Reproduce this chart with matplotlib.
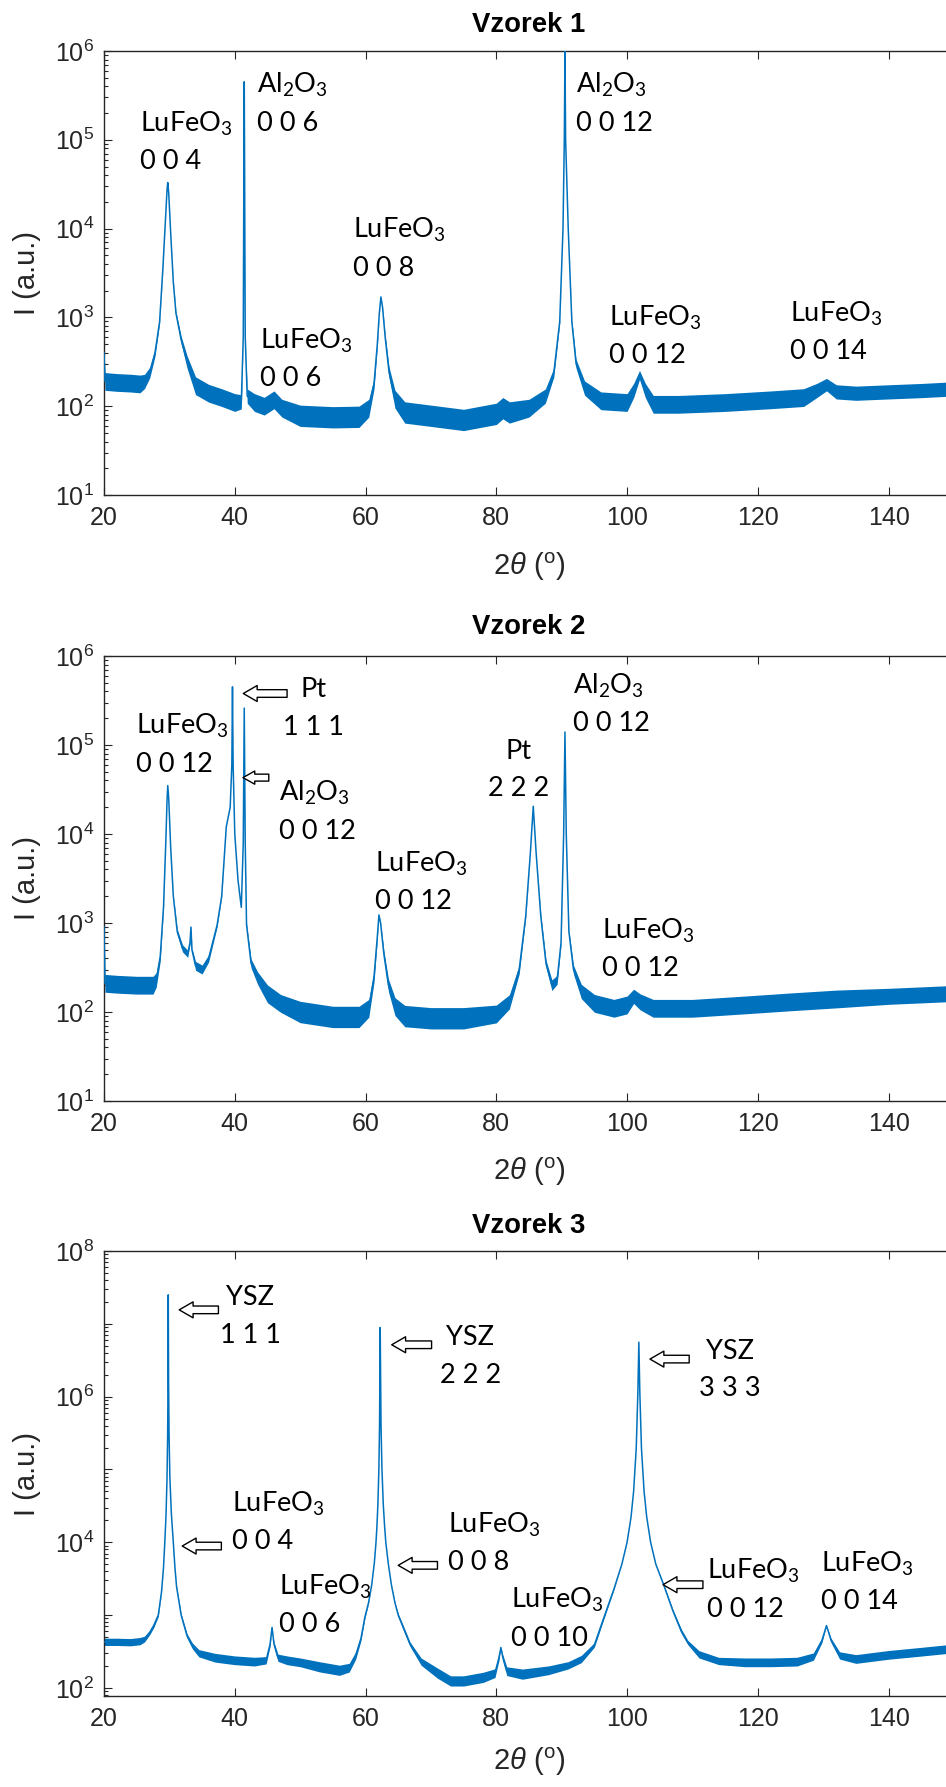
import numpy as np
import matplotlib
matplotlib.use('Agg')
import matplotlib.pyplot as plt
from matplotlib.ticker import FixedLocator, FuncFormatter, NullFormatter

plt.rcParams['font.family'] = ['Liberation Sans', 'DejaVu Sans']
plt.rcParams['mathtext.fontset'] = 'custom'
plt.rcParams['mathtext.rm'] = 'Liberation Sans'
plt.rcParams['mathtext.it'] = 'Liberation Sans:italic'
plt.rcParams['mathtext.bf'] = 'Liberation Sans:bold'
plt.rcParams['mathtext.default'] = 'regular'

# ---------------- data ----------------
titles = ['Vzorek 1', 'Vzorek 2', 'Vzorek 3']
xticks = [20, 40, 60, 80, 100, 120, 140]
ydecades = [[1, 2, 3, 4, 5, 6], [1, 2, 3, 4, 5, 6], [2, 3, 4, 5, 6, 7, 8]]

# Vzorek 1 : 2theta, intensity, noise half-width of the band (decades)
x1 = [20.0, 20.15, 22, 24, 25.5, 26.2, 27.0, 27.8, 28.5, 29.0, 29.4, 29.65, 29.75, 29.9, 30.2,
      30.6, 31.0, 31.8, 32.7, 34.0, 36.0, 38.0, 40.0, 41.0, 41.3, 41.4, 41.45, 41.5, 41.6,
      41.9, 43.0, 44.5, 46.0, 47.2, 50.0, 55.0, 59.0, 60.5, 61.3, 61.8, 62.1, 62.35, 62.6,
      63.0, 63.6, 64.5, 66.0, 70.0, 75.0, 80.0, 81.0, 82.0, 85.0, 87.5, 88.8, 89.7, 90.2,
      90.4, 90.5, 90.6, 91.0, 91.55, 92.2, 93.5, 96.0, 100.0, 101.0, 101.9, 102.8, 104.0,
      108.0, 115.0, 122.0, 127.0, 129.0, 130.5, 132.0, 135.0, 140.0, 145.0, 148.7]
y1 = [400, 190, 185, 182, 178, 190, 240, 400, 890, 3500, 12600, 28000, 33000, 25000, 8900,
      2500, 1120, 560, 316, 170, 140, 125, 110, 112, 600, 60000, 450000, 60000, 600,
      130, 110, 100, 118, 95, 78, 75, 76, 95, 180, 500, 1100, 1700, 1300,
      600, 240, 120, 85, 78, 70, 82, 95, 85, 95, 130, 240, 900, 10000,
      100000, 1000000, 100000, 10000, 900, 300, 160, 115, 110, 150, 225, 150, 105,
      105, 110, 118, 125, 150, 175, 145, 140, 145, 150, 155]
n1 = [0.0, 0.1, 0.1, 0.1, 0.1, 0.08, 0.06, 0.04, 0.02, 0.01, 0.0, 0.0, 0.0, 0.0, 0.0,
      0.01, 0.02, 0.04, 0.07, 0.1, 0.1, 0.1, 0.1, 0.08, 0.0, 0.0, 0.0, 0.0, 0.0,
      0.08, 0.1, 0.1, 0.1, 0.1, 0.12, 0.12, 0.12, 0.1, 0.06, 0.03, 0.01, 0.0, 0.01,
      0.03, 0.06, 0.1, 0.12, 0.12, 0.12, 0.12, 0.12, 0.12, 0.1, 0.08, 0.05, 0.02, 0.0,
      0.0, 0.0, 0.0, 0.0, 0.02, 0.05, 0.08, 0.1, 0.1, 0.08, 0.05, 0.08, 0.1,
      0.1, 0.1, 0.1, 0.1, 0.08, 0.07, 0.08, 0.08, 0.08, 0.08, 0.08]

# Vzorek 2
x2 = [20.0, 20.15, 22, 25, 27.5, 28.0, 28.6, 29.1, 29.45, 29.65, 29.75, 29.9, 30.2, 30.6,
      31.2, 32.0, 32.8, 33.15, 33.3, 33.45, 34.0, 35.0, 36.0, 37.3, 38.0, 38.7, 39.3, 39.55,
      39.65, 39.75, 40.0, 40.5, 41.0, 41.3, 41.45, 41.6, 41.8, 42.5, 43.5, 45.0, 47.0, 50.0,
      55.0, 59.0, 60.5, 61.3, 61.8, 62.05, 62.3, 62.8, 63.5, 64.5, 66.0, 70.0, 75.0, 80.0,
      82.0, 83.5, 84.5, 85.2, 85.65, 86.1, 86.8, 87.6, 88.5, 89.3, 89.9, 90.3, 90.5, 90.7,
      91.1, 91.8, 93.0, 95.0, 98.0, 100.0, 101.0, 102.0, 104.0, 110.0, 118.0, 125.0, 132.0,
      140.0, 148.7]
y2 = [900, 210, 205, 200, 200, 230, 420, 1500, 8000, 25000, 35000, 25000, 7000, 2000,
      800, 520, 450, 600, 900, 500, 330, 300, 400, 950, 2000, 12000, 20000, 60000,
      450000, 60000, 10000, 3000, 1500, 8000, 260000, 8000, 950, 350, 240, 160, 125, 100,
      88, 88, 110, 250, 700, 1230, 1000, 450, 200, 115, 90, 85, 85, 95,
      130, 300, 1200, 6000, 20500, 6000, 1200, 350, 200, 230, 600, 10000, 140000, 10000,
      800, 300, 170, 125, 110, 120, 150, 130, 110, 110, 120, 130, 140,
      150, 160]
n2 = [0.0, 0.1, 0.1, 0.1, 0.1, 0.08, 0.05, 0.02, 0.0, 0.0, 0.0, 0.0, 0.0, 0.01,
      0.03, 0.04, 0.04, 0.02, 0.0, 0.02, 0.05, 0.05, 0.04, 0.02, 0.01, 0.0, 0.0, 0.0,
      0.0, 0.0, 0.0, 0.0, 0.0, 0.0, 0.0, 0.0, 0.02, 0.05, 0.07, 0.1, 0.1, 0.12,
      0.12, 0.12, 0.1, 0.06, 0.03, 0.0, 0.01, 0.04, 0.07, 0.1, 0.12, 0.12, 0.12, 0.1,
      0.08, 0.05, 0.02, 0.0, 0.0, 0.0, 0.02, 0.04, 0.06, 0.05, 0.02, 0.0, 0.0, 0.0,
      0.02, 0.05, 0.08, 0.1, 0.1, 0.1, 0.08, 0.09, 0.1, 0.1, 0.1, 0.1, 0.1,
      0.09, 0.09]

# Vzorek 3
x3 = [20.0, 22.0, 24.0, 25.5, 26.2, 27.0, 27.6, 28.3, 28.8, 29.1,
      29.3, 29.48, 29.63, 29.73, 29.78, 29.83, 29.88, 29.95, 30.07, 30.3,
      30.6, 30.85, 31.1, 31.8, 32.7, 33.5, 34.5, 37.0, 40.0, 43.0,
      44.8, 45.4, 45.7, 46.0, 46.6, 48.0, 50.0, 53.0, 56.0, 57.5,
      58.5, 59.3, 59.9, 60.45, 60.95, 61.35, 61.6, 61.74, 61.89, 62.04,
      62.14, 62.24, 62.37, 62.51, 62.71, 62.92, 63.1, 63.46, 63.95, 64.5,
      65.0, 66.0, 66.8, 68.5, 71.0, 73.0, 75.0, 78.0, 79.8, 80.4,
      80.7, 81.0, 81.6, 84.0, 88.0, 91.0, 93.0, 95.0, 96.4, 98.0,
      99.2, 100.0, 100.6, 101.0, 101.4, 101.65, 101.8, 101.95, 102.2, 102.6,
      103.0, 103.6, 104.4, 105.6, 107.0, 108.3, 109.3, 111.0, 114.0, 118.0,
      122.0, 126.0, 128.5, 129.8, 130.5, 131.2, 132.5, 135.0, 140.0, 145.0,
      148.7]
y3 = [430, 430, 425, 440, 470, 580, 720, 1000, 2100, 4500,
      10000, 23000, 70000, 280000, 1100000, 25000000, 1500000, 300000, 80000, 25000,
      10000, 4500, 2450, 1000, 520, 380, 300, 260, 240, 230,
      240, 400, 680, 400, 260, 240, 225, 195, 175, 190,
      280, 480, 940, 1470, 2620, 5270, 10000, 16400, 33500, 102000,
      394000, 8900000, 394000, 102000, 33500, 16400, 10000, 5270, 2620, 1470,
      1000, 600, 400, 230, 160, 125, 125, 140, 160, 260,
      360, 260, 170, 155, 175, 205, 250, 390, 900, 2300,
      5000, 10000, 22000, 50000, 195000, 1140000, 5600000, 1140000, 195000, 50000,
      22400, 10000, 5000, 2600, 1150, 600, 420, 290, 235, 225,
      225, 230, 270, 450, 720, 450, 280, 250, 285, 315,
      340]
n3 = [0.05, 0.05, 0.05, 0.05, 0.04, 0.03, 0.03, 0.02, 0.01, 0.0,
      0.0, 0.0, 0.0, 0.0, 0.0, 0.0, 0.0, 0.0, 0.0, 0.0,
      0.0, 0.0, 0.01, 0.02, 0.03, 0.04, 0.05, 0.06, 0.06, 0.06,
      0.05, 0.03, 0.0, 0.03, 0.05, 0.06, 0.06, 0.07, 0.07, 0.06,
      0.05, 0.03, 0.02, 0.01, 0.0, 0.0, 0.0, 0.0, 0.0, 0.0,
      0.0, 0.0, 0.0, 0.0, 0.0, 0.0, 0.0, 0.0, 0.0, 0.01,
      0.02, 0.03, 0.03, 0.05, 0.07, 0.07, 0.07, 0.07, 0.06, 0.04,
      0.0, 0.04, 0.06, 0.07, 0.06, 0.05, 0.05, 0.03, 0.02, 0.01,
      0.0, 0.0, 0.0, 0.0, 0.0, 0.0, 0.0, 0.0, 0.0, 0.0,
      0.0, 0.0, 0.0, 0.01, 0.02, 0.03, 0.03, 0.05, 0.05, 0.06,
      0.06, 0.06, 0.05, 0.03, 0.0, 0.03, 0.05, 0.06, 0.06, 0.06,
      0.06]

# peak labels: phase name, hkl, x position, y of first line (baseline), alignment
lab_name1 = ['LuFeO3', 'Al2O3', 'LuFeO3', 'LuFeO3', 'Al2O3', 'LuFeO3', 'LuFeO3']
lab_hkl1 = ['0 0 4', '0 0 6', '0 0 6', '0 0 8', '0 0 12', '0 0 12', '0 0 14']
lab_x1 = [25.5, 43.35, 43.8, 58.1, 92.2, 97.3, 124.9]
lab_y1 = [1.23e5, 3.34e5, 443, 7800, 3.34e5, 807, 890]
lab_ha1 = ['left'] * 7

lab_name2 = ['LuFeO3', 'Pt', 'Al2O3', 'Pt', 'Al2O3', 'LuFeO3', 'LuFeO3']
lab_hkl2 = ['0 0 12', '1 1 1', '0 0 12', '2 2 2', '0 0 12', '0 0 12', '0 0 12']
lab_x2 = [24.85, 52.1, 46.7, 83.4, 91.75, 61.5, 96.1]
lab_y2 = [1.32e5, 3.46e5, 2.34e4, 6.97e4, 3.75e5, 3760, 664]
lab_ha2 = ['left', 'center', 'left', 'center', 'left', 'left', 'left']

lab_name3 = ['YSZ', 'YSZ', 'YSZ', 'LuFeO3', 'LuFeO3', 'LuFeO3', 'LuFeO3', 'LuFeO3', 'LuFeO3']
lab_hkl3 = ['1 1 1', '2 2 2', '3 3 3', '0 0 4', '0 0 6', '0 0 8', '0 0 10', '0 0 12', '0 0 14']
lab_x3 = [42.4, 76.0, 115.7, 39.6, 46.8, 72.55, 82.3, 112.2, 129.6]
lab_y3 = [1.81e7, 5.12e6, 3.33e6, 2.65e4, 1905, 1.35e4, 1245, 3110, 3970]
lab_ha3 = ['center', 'center', 'center', 'left', 'left', 'left', 'left', 'left', 'left']

# hollow arrows: tip x, tail x, y
arr_tip2 = [41.3, 41.25]
arr_tail2 = [48.0, 45.2]
arr_y2 = [3.79e5, 4.30e4]
arr_tip3 = [31.5, 64.0, 103.5, 31.96, 65.0, 105.5]
arr_tail3 = [37.5, 70.1, 109.5, 37.95, 71.0, 111.6]
arr_y3 = [1.556e7, 5.16e6, 3.28e6, 8890, 4830, 2620]

ylims = [(1e1, 1e6), (1e1, 1e6), (10 ** 1.89, 1e8)]

# ---------------- drawing ----------------
BLUE = '#0072BD'
AXC = '#262626'
W, H = 946, 1787
fig = plt.figure(figsize=(W / 100, H / 100), dpi=100)
fig.patch.set_facecolor('white')

boxes = [(51, 495), (656, 1101), (1251, 1696)]
title_c = [25, 627, 1226]
xlab_c = [567, 1172, 1762]
LEFT, RIGHT = 104, 954

NAMES = {'LuFeO3': 'LuFeO$\\mathregular{_3}$', 'Al2O3': 'Al$\\mathregular{_2}$O$\\mathregular{_3}$',
         'Pt': 'Pt', 'YSZ': 'YSZ'}
LFONT = dict(family=['Lato', 'DejaVu Sans'], size=19.5, color='black')
PITCH = 27  # points between the two lines of a label

data = [(x1, y1, n1), (x2, y2, n2), (x3, y3, n3)]
labels = [(lab_name1, lab_hkl1, lab_x1, lab_y1, lab_ha1),
          (lab_name2, lab_hkl2, lab_x2, lab_y2, lab_ha2),
          (lab_name3, lab_hkl3, lab_x3, lab_y3, lab_ha3)]
arrows = [([], [], []), (arr_tip2, arr_tail2, arr_y2), (arr_tip3, arr_tail3, arr_y3)]


def decade_fmt(skip_odd):
    def f(v, pos):
        e = int(round(np.log10(v)))
        if skip_odd and e % 2:
            return ''
        return '$\\mathdefault{10^{%d}}$' % e
    return FuncFormatter(f)


for i in range(3):
    top, bot = boxes[i]
    ax = fig.add_axes([LEFT / W, 1 - bot / H, (RIGHT - LEFT) / W, (bot - top) / H])
    xs, ys, ns = [np.asarray(a, float) for a in data[i]]
    lo = ys * 10 ** (-ns)
    hi = ys * 10 ** ns
    ax.fill_between(xs, lo, hi, color=BLUE, lw=0, zorder=2)
    ax.plot(xs, ys, color=BLUE, lw=1.1, zorder=3)
    ax.set_yscale('log')
    ax.set_xlim(20, 150)
    ymin, ymax = ylims[i]
    ax.set_ylim(ymin, ymax)
    ax.set_xticks(xticks)
    dec = ydecades[i]
    ax.yaxis.set_major_locator(FixedLocator([10.0 ** e for e in dec]))
    ax.yaxis.set_major_formatter(decade_fmt(i == 2))
    minors = [m * 10.0 ** e for e in range(dec[0] - 1, dec[-1]) for m in range(2, 10)]
    minors = [v for v in minors if ymin <= v <= ymax]
    ax.yaxis.set_minor_locator(FixedLocator(minors))
    ax.yaxis.set_minor_formatter(NullFormatter())
    ax.tick_params(which='both', direction='in', top=True, right=True, colors=AXC,
                   labelcolor=AXC, labelsize=18, width=0.8)
    ax.tick_params(which='major', length=5.8)
    ax.tick_params(which='minor', length=2.9)
    ax.tick_params(axis='x', pad=8)
    ax.tick_params(axis='y', pad=7)
    for s in ax.spines.values():
        s.set_color(AXC)
        s.set_linewidth(1.0)
    h = bot - top
    ax.set_title(titles[i], fontsize=19.8, fontweight='bold', color='black',
                 y=(bot - title_c[i]) / h, va='center', pad=0)
    ax.set_xlabel('2$\\it{\\theta}$ ($^{\\rm o}$)', fontsize=21, color=AXC)
    ax.xaxis.set_label_coords(0.5, (bot - xlab_c[i]) / h)
    ax.xaxis.label.set_va('center')
    ax.set_ylabel('I (a.u.)', fontsize=21, color=AXC)
    ax.yaxis.set_label_coords((27 - LEFT) / (RIGHT - LEFT), 0.5)
    ax.yaxis.label.set_va('center')

    nm, hk, lxs, lys, has = labels[i]
    for name, hkl, lx, ly, ha in zip(nm, hk, lxs, lys, has):
        ax.text(lx, ly, NAMES[name], ha=ha, va='baseline', zorder=5, **LFONT)
        ax.annotate(hkl, xy=(lx, ly), xytext=(0, -PITCH), textcoords='offset points',
                    ha=ha, va='baseline', zorder=5, **LFONT)

    tips, tails, ay = arrows[i]
    for j, (tp, tl, yy) in enumerate(zip(tips, tails, ay)):
        small = (i == 1 and j == 1)
        style = ('simple,head_length=0.85,head_width=0.95,tail_width=0.5' if small else
                 'simple,head_length=1.0,head_width=1.15,tail_width=0.55')
        ax.annotate('', xy=(tp, yy), xytext=(tl, yy),
                    arrowprops=dict(arrowstyle=style, fc='white', ec='black', lw=1.0,
                                    shrinkA=0, shrinkB=0, mutation_scale=10),
                    zorder=6)

fig.savefig('out.png', dpi=100, facecolor='white')
